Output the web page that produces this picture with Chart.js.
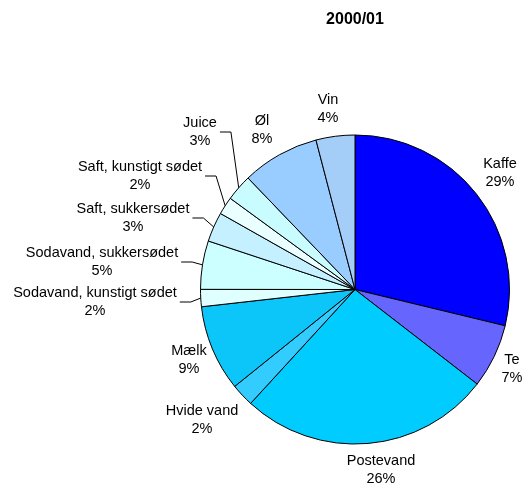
<!DOCTYPE html>
<html>
<head>
<meta charset="utf-8">
<script src="https://cdn.jsdelivr.net/npm/chart.js@4"></script>
<style>
  body { margin: 0; background: #fff; }
  #wrap { width: 524px; height: 489px; }
</style>
</head>
<body>
<div id="wrap"><canvas id="pie" width="524" height="489"></canvas></div>
<script>
// data (andel i procent)
const title = "2000/01";
const categories = ["Kaffe", "Te", "Postevand", "Hvide vand", "Mælk",
  "Sodavand, kunstigt sødet", "Sodavand, sukkersødet", "Saft, sukkersødet",
  "Saft, kunstigt sødet", "Juice", "Øl", "Vin"];
const values = [28.75, 6.7, 26.3, 2.4, 9.0, 1.8, 5.06, 3.1, 1.86, 2.78, 8.1, 4.06];
const colors = ["#0000ff", "#6666ff", "#00ccff", "#33ccff", "#0cc6fa",
  "#e0ffff", "#ccffff", "#c4f0ff", "#eaffff", "#c8fcff", "#99ccff", "#a4cef8"];

// label placering (tekstens midtpunkt)
const labelX = [500, 512, 381, 202, 189, 95, 102, 133, 140, 200, 262, 328];
const labelY = [173, 369, 470, 420, 360, 302, 262, 218, 176, 132, 130, 109];
const leader = [false, false, false, false, false, true, true, true, true, true, false, false];

const FONT = '14.5px "Liberation Sans", Arial, sans-serif';

// titel, labels med procent + streger
const labelPlugin = {
  id: "pieLabels",
  afterDraw(chart) {
    const ctx = chart.ctx;
    const arcs = chart.getDatasetMeta(0).data;
    const total = values.reduce((a, b) => a + b, 0);
    ctx.save();
    ctx.fillStyle = "#000";
    ctx.textAlign = "center";
    ctx.textBaseline = "middle";
    ctx.font = 'bold 16px "Liberation Sans", Arial, sans-serif';
    ctx.fillText(title, 355, 20);
    ctx.font = FONT;
    arcs.forEach((arc, i) => {
      const pct = Math.round(values[i] / total * 100) + "%";
      const x = labelX[i], y = labelY[i];
      ctx.fillText(categories[i], x, y - 9);
      ctx.fillText(pct, x, y + 9);
      if (leader[i]) {
        const w = ctx.measureText(categories[i]).width;
        const mid = (arc.startAngle + arc.endAngle) / 2;
        const ex = arc.x + Math.cos(mid) * arc.outerRadius;
        const ey = arc.y + Math.sin(mid) * arc.outerRadius;
        const sx = x + w / 2 + 3;
        ctx.beginPath();
        ctx.lineWidth = 1;
        ctx.strokeStyle = "#000";
        ctx.moveTo(sx, y);
        ctx.lineTo(sx + 11, y);
        ctx.lineTo(ex, ey);
        ctx.stroke();
      }
    });
    ctx.restore();
  }
};

new Chart(document.getElementById("pie"), {
  type: "pie",
  data: {
    labels: categories,
    datasets: [{
      data: values,
      backgroundColor: colors,
      borderColor: "#000",
      borderWidth: 1
    }]
  },
  options: {
    responsive: false,
    animation: false,
    layout: { padding: { left: 200, right: 14, top: 134, bottom: 44 } },
    plugins: {
      legend: { display: false },
      tooltip: { enabled: false },
      title: { display: false }
    }
  },
  plugins: [labelPlugin]
});
</script>
</body>
</html>
